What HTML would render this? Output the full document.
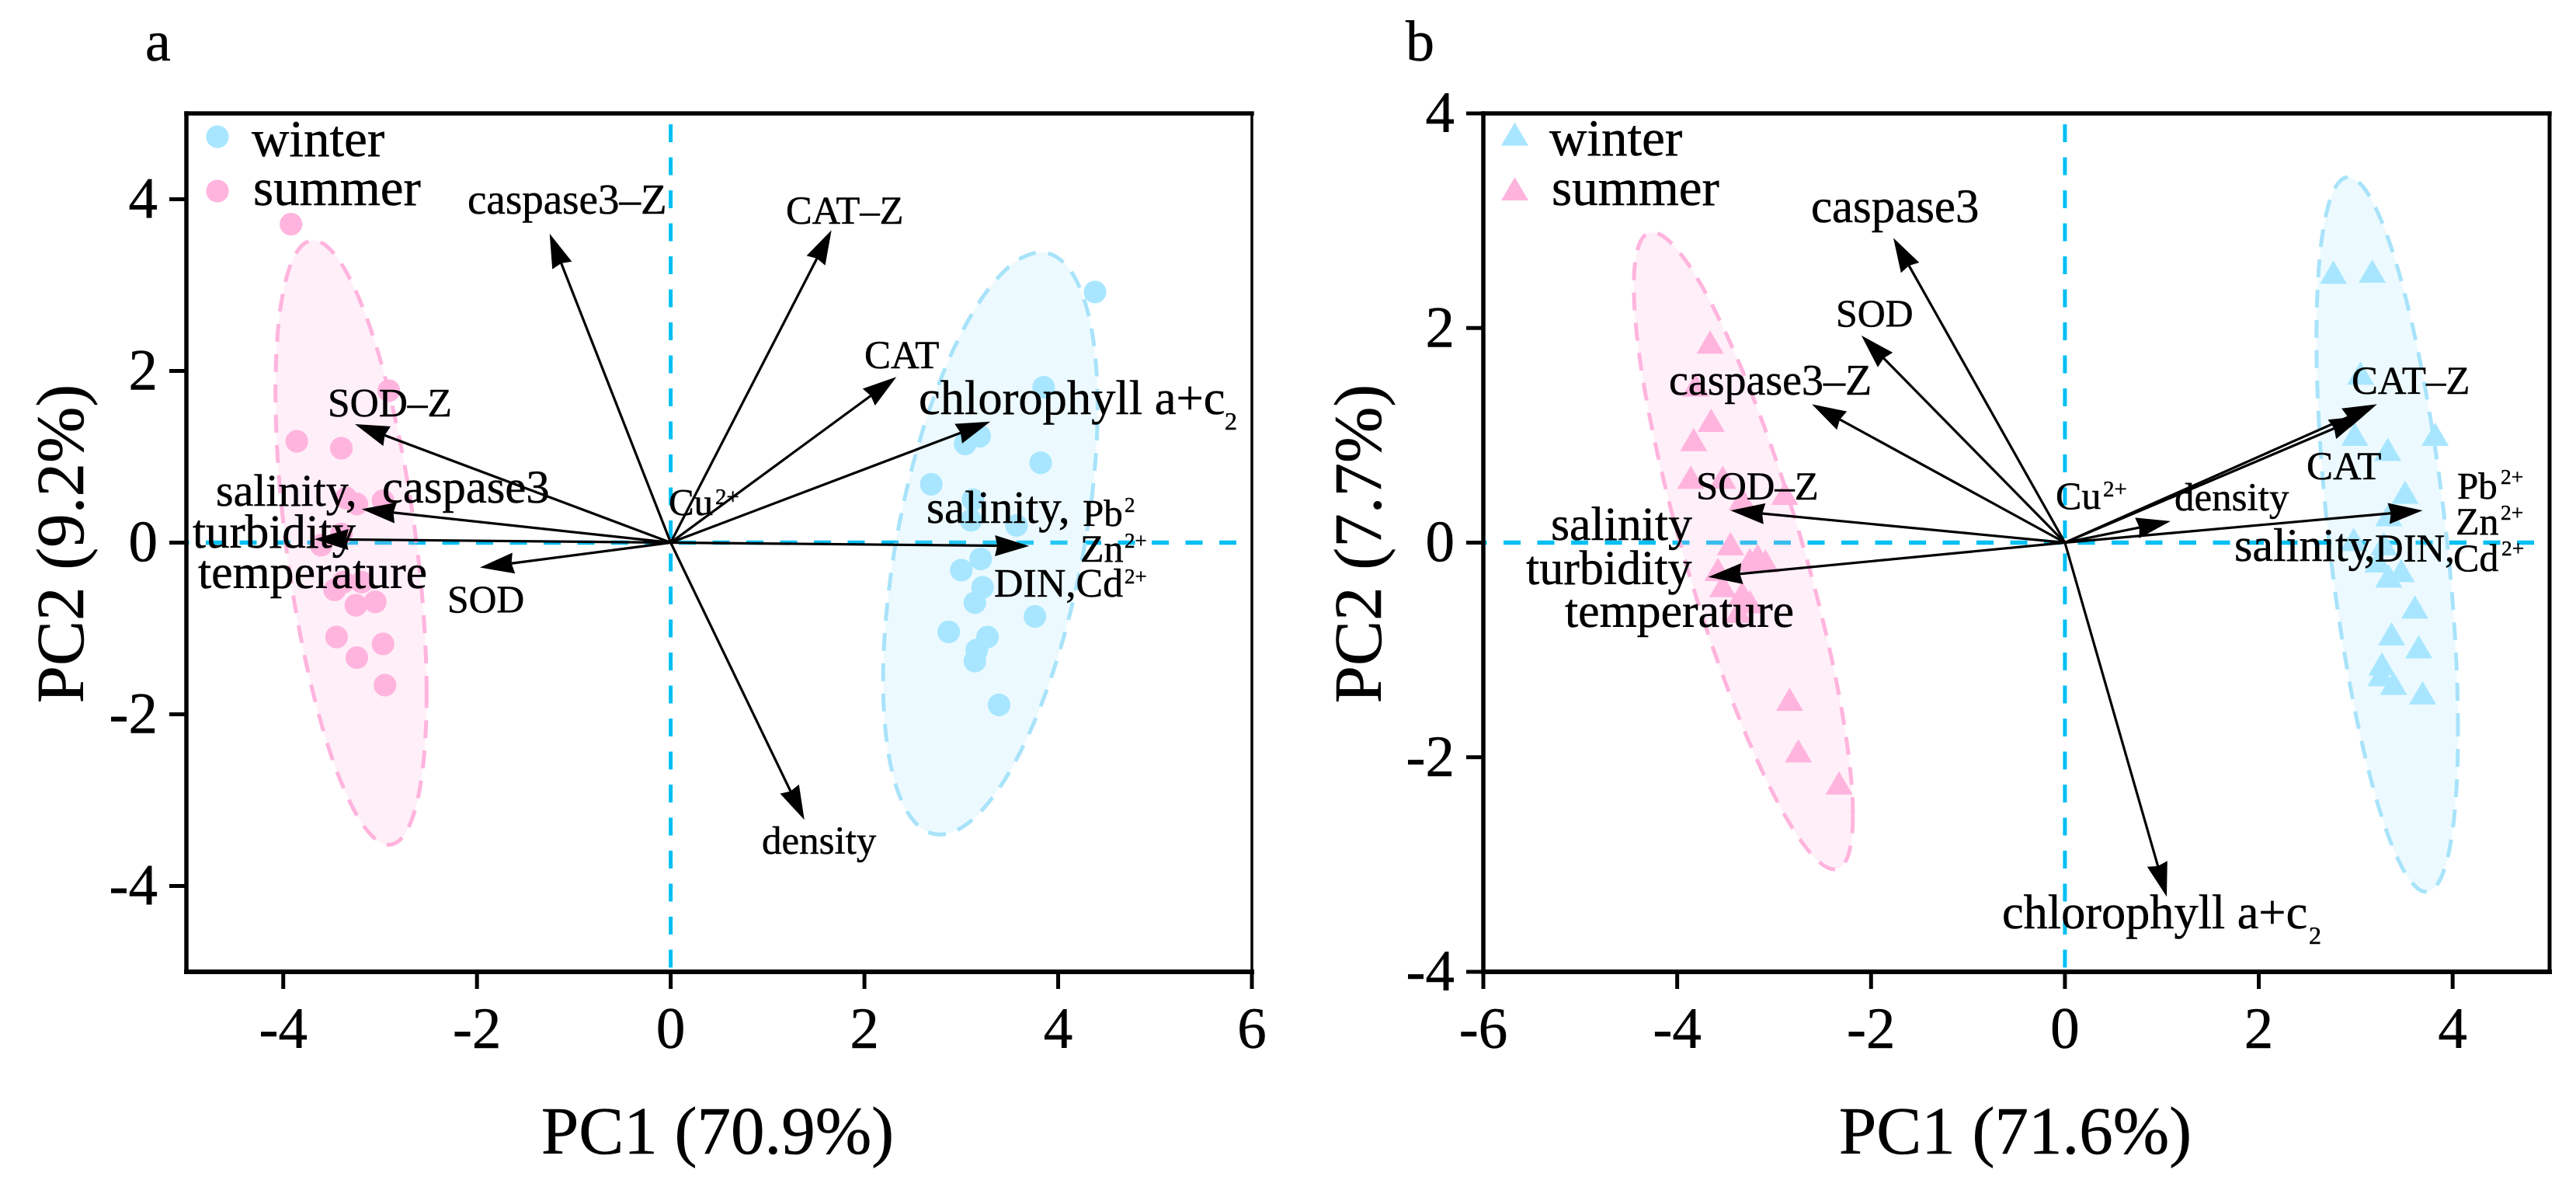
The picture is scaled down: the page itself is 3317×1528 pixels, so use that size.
<!DOCTYPE html>
<html lang="en">
<head>
<meta charset="utf-8">
<title>PCA biplots of winter and summer samples</title>
<style>
html,body{margin:0;padding:0;background:#fff;}
svg{display:block;}
text{font-family:"Liberation Serif","Times New Roman",serif;fill:#000;stroke:#000;stroke-width:0.5px;}
</style>
</head>
<body>
<svg id="chart" xmlns="http://www.w3.org/2000/svg" width="3317" height="1528" viewBox="0 0 3317 1528">
<rect x="0" y="0" width="3317" height="1528" fill="#fff"/>
<g id="panel-a-marks"></g>
<g id="panel-b-marks"></g>

<g>
<text x="187" y="78" font-size="74">a</text>
<text x="924" y="1485" font-size="87" text-anchor="middle">PC1 (70.9%)</text>
<text transform="translate(107,700) rotate(-90)" font-size="87" text-anchor="middle">PC2 (9.2%)</text>
<text x="324" y="201" font-size="67">winter</text>
<text x="326" y="264" font-size="67">summer</text>
<text x="602" y="275" font-size="55">caspase3–Z</text>
<text x="1012" y="288" font-size="50.5">CAT–Z</text>
<text x="1113" y="474" font-size="51">CAT</text>
<text x="1183" y="533" font-size="62.5">chlorophyll a+c<tspan x="1577" y="553" font-size="32">2</tspan></text>
<text x="1193" y="673" font-size="59">salinity,</text>
<text x="1394" y="677" font-size="49">Pb<tspan x="1448" y="659" font-size="27">2</tspan></text>
<text x="1391" y="723" font-size="50">Zn<tspan x="1448" y="705" font-size="27">2+</tspan></text>
<text x="1280" y="768" font-size="52">DIN,Cd<tspan x="1448" y="751" font-size="27">2+</tspan></text>
<text x="861" y="663" font-size="49">Cu<tspan x="921" y="649" font-size="29">2+</tspan></text>
<text x="981" y="1099" font-size="51">density</text>
<text x="576" y="788" font-size="49.6">SOD</text>
<text x="422" y="536" font-size="51.4">SOD–Z</text>
<text x="278" y="651" font-size="58">salinity,</text>
<text x="492" y="647" font-size="60.7">caspase3</text>
<text x="248" y="705" font-size="61">turbidity</text>
<text x="255" y="757" font-size="61.8">temperature</text>
</g>

<g>
<text x="1810" y="78" font-size="74">b</text>
<text x="2595" y="1485" font-size="87" text-anchor="middle">PC1 (71.6%)</text>
<text transform="translate(1778,700) rotate(-90)" font-size="87" text-anchor="middle">PC2 (7.7%)</text>
<text x="1995" y="200" font-size="67">winter</text>
<text x="1998" y="264" font-size="67">summer</text>
<text x="2332" y="286" font-size="60.9">caspase3</text>
<text x="2364" y="420" font-size="49.8">SOD</text>
<text x="2149" y="508" font-size="56">caspase3–Z</text>
<text x="2184" y="643" font-size="50.7">SOD–Z</text>
<text x="1997" y="695" font-size="61.8">salinity</text>
<text x="1965" y="752" font-size="62">turbidity</text>
<text x="2015" y="807" font-size="61.8">temperature</text>
<text x="2647" y="655" font-size="50">Cu<tspan x="2708" y="639" font-size="29">2+</tspan></text>
<text x="2800" y="657" font-size="51">density</text>
<text x="3028" y="507" font-size="50.8">CAT–Z</text>
<text x="2970" y="617" font-size="51">CAT</text>
<text x="2877" y="722" font-size="60">salinity<tspan dx="-6">,</tspan></text>
<text x="3058" y="723" font-size="50.7">DIN,</text>
<text x="3159" y="735" font-size="50">Cd<tspan x="3221" y="715" font-size="27.4">2+</tspan></text>
<text x="3164" y="642" font-size="49">Pb<tspan x="3220" y="623" font-size="27.4">2+</tspan></text>
<text x="3162" y="688" font-size="50">Zn<tspan x="3220" y="669" font-size="27.4">2+</tspan></text>
<text x="2578" y="1195" font-size="62.3">chlorophyll a+c<tspan x="2973" y="1215" font-size="32">2</tspan></text>
</g>
</svg>

<script>
// ---- Panel a data ----
const aXTicks = [-4, -2, 0, 2, 4, 6];
const aYTicks = [4, 2, 0, -2, -4];
const aWinterX = [3.04, 3.19, 3.82, 2.69, 3.12, 3.10, 3.57, 3.20, 3.00, 3.22, 3.14, 3.76, 2.87, 3.27, 3.16, 3.14, 4.38, 3.85, 3.39];
const aWinterY = [1.15, 1.24, 0.93, 0.68, 0.50, 0.26, 0.20, -0.19, -0.32, -0.52, -0.70, -0.86, -1.04, -1.10, -1.25, -1.38, 2.92, 1.81, -1.89];
const aSummerX = [-3.92, -2.91, -3.86, -3.40, -3.35, -3.24, -2.97, -3.40, -3.61, -3.47, -3.38, -3.19, -3.25, -3.05, -3.45, -2.97, -3.24, -2.95];
const aSummerY = [3.71, 1.77, 1.18, 1.10, 0.52, 0.45, 0.49, 0.10, -0.03, -0.55, -0.46, -0.46, -0.73, -0.69, -1.10, -1.18, -1.34, -1.66];
const aLoadingNames = ['caspase3-z', 'cat-z', 'cat', 'chlorophyll', 'salinity-pb-zn-din-cd', 'density', 'sod', 'sod-z', 'salinity-caspase3', 'turbidity-temperature'];
const aLoadingX = [-1.25, 1.66, 2.33, 3.30, 3.70, 1.38, -1.97, -3.26, -3.19, -3.68];
const aLoadingY = [3.60, 3.64, 1.93, 1.41, -0.04, -3.23, -0.29, 1.38, 0.39, 0.04];
const aWinterEllipse = [3.30, -0.01, 1.107, 3.39, 0.47];
const aSummerEllipse = [-3.30, 0.00, 0.78, 3.52, -0.50];

// ---- Panel b data ----
const bXTicks = [-6, -4, -2, 0, 2, 4];
const bYTicks = [4, 2, 0, -2, -4];
const bWinterX = [2.99, 3.33, 3.82, 3.51, 3.34, 2.98, 3.29, 3.23, 3.47, 3.34, 3.61, 3.37, 3.65, 3.27, 3.39, 3.26, 3.69, 2.77, 3.17, 3.05];
const bWinterY = [1.01, 0.87, 1.01, 0.47, 0.26, 0.03, -0.01, -0.17, -0.26, -0.31, -0.60, -0.85, -0.97, -1.13, -1.31, -1.23, -1.40, 2.52, 2.53, 1.58];
const bSummerX = [-3.86, -3.53, -3.33, -2.89, -3.45, -3.25, -3.17, -3.09, -3.58, -3.53, -3.33, -3.25, -3.37, -3.66, -3.81, -3.65, -3.83, -2.84, -2.75, -2.33];
const bSummerY = [0.61, 0.61, 0.41, 0.46, -0.01, -0.16, -0.12, -0.17, -0.25, -0.40, -0.47, -0.55, -0.64, 1.87, 1.47, 1.14, 0.96, -1.46, -1.94, -2.24];
const bLoadingNames = ['caspase3', 'sod', 'caspase3-z', 'sod-z', 'salinity-turbidity-temperature', 'cat-z', 'cat', 'density', 'pb-zn-salinity-din-cd', 'chlorophyll'];
const bLoadingX = [-1.77, -2.10, -2.61, -3.45, -3.68, 3.22, 3.08, 1.09, 3.69, 1.05];
const bLoadingY = [2.84, 1.93, 1.29, 0.30, -0.32, 1.29, 1.18, 0.20, 0.30, -3.30];
const bWinterEllipse = [3.325, 0.076, 0.73, 3.33, -0.55];
const bSummerEllipse = [-3.317, -0.076, 1.13, 2.968, -0.83];

const NS = 'http://www.w3.org/2000/svg';
const WINTER = '#A8E6FF';
const SUMMER = '#FFB4DE';
const AXIS_DASH = '#00BFF3';

function make(parent, tag, attrs) {
  const el = document.createElementNS(NS, tag);
  for (const k in attrs) el.setAttribute(k, attrs[k]);
  parent.appendChild(el);
  return el;
}
function linear(d0, d1, r0, r1) {
  return v => r0 + (v - d0) * (r1 - r0) / (d1 - d0);
}

function drawPanel(p) {
  const g = document.getElementById(p.id + '-marks');
  const sx = linear(p.xDomain[0], p.xDomain[1], p.left, p.right);
  const sy = linear(p.yDomain[0], p.yDomain[1], p.bottom, p.top);

  // zero reference lines
  const hz = make(g, 'line', {x1: p.right - 20, x2: p.left + 2, y1: sy(0), y2: sy(0), stroke: AXIS_DASH, 'stroke-width': 5.5, 'stroke-dasharray': '22 21.5'});
  
  
  const vt = make(g, 'line', {x1: sx(0), x2: sx(0), y1: p.top + 14, y2: p.bottom, stroke: AXIS_DASH, 'stroke-width': 5, 'stroke-dasharray': '23 19.5'});
  
  

  // confidence ellipses
  [[p.winterEllipse, WINTER, '#A8E3FA', 'winter'], [p.summerEllipse, SUMMER, '#FFB4DE', 'summer']].forEach(function (e) {
    const c = e[0];
    const pts = [];
    for (let i = 0; i < 180; i++) {
      const t = i / 180 * Math.PI * 2;
      const dx = c[0] + c[2] * Math.cos(t);
      const dy = c[1] + c[3] * (c[4] * Math.cos(t) + Math.sqrt(1 - c[4] * c[4]) * Math.sin(t));
      pts.push(sx(dx).toFixed(1) + ',' + sy(dy).toFixed(1));
    }
    const fill = make(g, 'polygon', {points: pts.join(' '), fill: e[1], 'fill-opacity': 0.22, stroke: 'none'});
    
    
    const edge = make(g, 'polygon', {points: pts.join(' '), fill: 'none', stroke: e[2], 'stroke-width': 5, 'stroke-dasharray': '23 16'});
    
    
  });

  // sample points
  function marker(x, y, color, season) {
    let el;
    if (p.shape === 'circle') {
      el = make(g, 'circle', {cx: x, cy: y, r: 14.6, fill: color});
    } else {
      el = make(g, 'polygon', {points: x + ',' + (y - 15) + ' ' + (x + 17.5) + ',' + (y + 15) + ' ' + (x - 17.5) + ',' + (y + 15), fill: color});
    }
    
    
  }
  p.winterX.forEach((v, i) => marker(sx(v), sy(p.winterY[i]), WINTER, 'winter'));
  p.summerX.forEach((v, i) => marker(sx(v), sy(p.summerY[i]), SUMMER, 'summer'));

  // legend markers
  [[p.legendY[0], WINTER, 'winter'], [p.legendY[1], SUMMER, 'summer']].forEach(function (l) {
    let el;
    if (p.shape === 'circle') {
      el = make(g, 'circle', {cx: p.legendX, cy: l[0], r: 14.6, fill: l[1]});
    } else {
      el = make(g, 'polygon', {points: p.legendX + ',' + (l[0] - 15) + ' ' + (p.legendX + 17.5) + ',' + (l[0] + 15) + ' ' + (p.legendX - 17.5) + ',' + (l[0] + 15), fill: l[1]});
    }
    
    
  });

  // loading arrows
  const ox = sx(0), oy = sy(0);
  p.loadingX.forEach(function (v, i) {
    const tx = sx(v), ty = sy(p.loadingY[i]);
    const dx = tx - ox, dy = ty - oy;
    const len = Math.hypot(dx, dy);
    const ux = dx / len, uy = dy / len;
    const nx = -uy, ny = ux;
    const bx = tx - ux * 44, by = ty - uy * 44;
    const mx = tx - ux * 41, my = ty - uy * 41;
    const line = make(g, 'line', {x1: ox, y1: oy, x2: mx, y2: my, stroke: '#000', 'stroke-width': 3.2});
    
    
    const head = make(g, 'polygon', {points: [tx + ',' + ty, (bx + nx * 13.5) + ',' + (by + ny * 13.5), mx + ',' + my, (bx - nx * 13.5) + ',' + (by - ny * 13.5)].join(' '), fill: '#000'});
    
    
  });

  // frame
  const sides = [
    [p.left, p.top, p.right, p.top, 5.5, 'top'],
    [p.left, p.bottom, p.right, p.bottom, 6, 'bottom'],
    [p.left, p.top, p.left, p.bottom, 5.5, 'left'],
    [p.right, p.top, p.right, p.bottom, p.rightWidth, 'right']
  ];
  sides.forEach(function (s) {
    const el = make(g, 'line', {x1: s[0], y1: s[1], x2: s[2], y2: s[3], stroke: '#000', 'stroke-width': s[4], 'stroke-linecap': 'square'});
    
    
  });

  // ticks
  p.xTicks.forEach(function (t) {
    const x = sx(t);
    const tick = make(g, 'line', {x1: x, x2: x, y1: p.bottom, y2: p.bottom + 22, stroke: '#000', 'stroke-width': 5});
    
    
    const label = make(g, 'text', {x: x, y: 1349, 'font-size': 75, 'text-anchor': 'middle'});
    label.textContent = String(t);
    
    
  });
  p.yTicks.forEach(function (t) {
    const y = sy(t);
    const tick = make(g, 'line', {x1: p.left - 22, x2: p.left, y1: y, y2: y, stroke: '#000', 'stroke-width': 5});
    
    
    const label = make(g, 'text', {x: p.left - 37, y: y + 24, 'font-size': 75, 'text-anchor': 'end'});
    label.textContent = String(t);
    
    
  });
}

drawPanel({
  id: 'panel-a', shape: 'circle',
  xDomain: [-5, 6], yDomain: [-5, 5], left: 240, right: 1612, top: 146, bottom: 1251, rightWidth: 3.5,
  xTicks: aXTicks, yTicks: aYTicks,
  winterX: aWinterX, winterY: aWinterY, summerX: aSummerX, summerY: aSummerY,
  winterEllipse: aWinterEllipse, summerEllipse: aSummerEllipse,
  loadingNames: aLoadingNames, loadingX: aLoadingX, loadingY: aLoadingY,
  legendX: 280, legendY: [176, 246]
});
drawPanel({
  id: 'panel-b', shape: 'triangle',
  xDomain: [-6, 5], yDomain: [-4, 4], left: 1910, right: 3283, top: 146, bottom: 1251, rightWidth: 5,
  xTicks: bXTicks, yTicks: bYTicks,
  winterX: bWinterX, winterY: bWinterY, summerX: bSummerX, summerY: bSummerY,
  winterEllipse: bWinterEllipse, summerEllipse: bSummerEllipse,
  loadingNames: bLoadingNames, loadingX: bLoadingX, loadingY: bLoadingY,
  legendX: 1950.5, legendY: [172.5, 243]
});
</script>
</body>
</html>
